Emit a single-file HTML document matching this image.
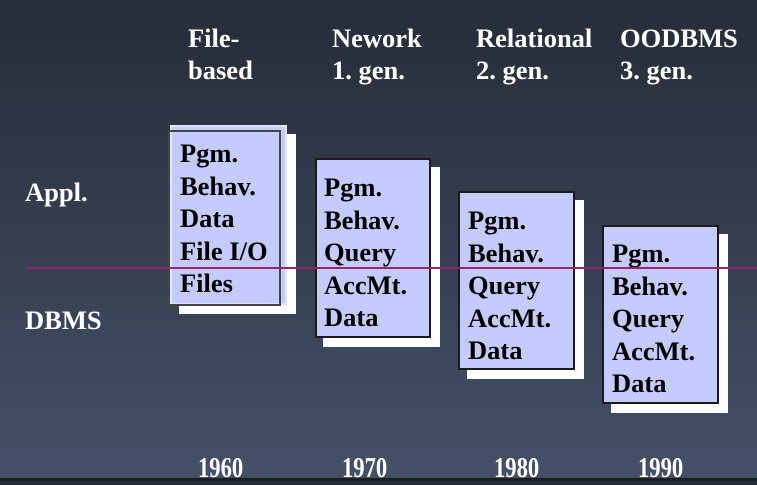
<!DOCTYPE html>
<html><head><style>
body{margin:0;width:757px;height:481px;overflow:hidden;background:linear-gradient(#262c38,#435067 470px);position:relative;font-family:"Liberation Serif",serif;font-weight:bold;}
.t{position:absolute;color:#fff;font-size:26.5px;line-height:32px;white-space:nowrap}
.sh{position:absolute;background:#fff}
.bx{position:absolute;background:#c4cbff;border:2px solid #1a1a1a;box-sizing:border-box}
.bt{position:absolute;color:#000;font-size:26.5px;line-height:32.5px;white-space:nowrap}
.y{position:absolute;color:#fff;font-size:29px;top:452px;transform:scaleX(0.78);transform-origin:left}
</style></head><body>
<div class="t" style="left:188px;top:22px">File-<br>based</div>
<div class="t" style="left:332px;top:22px">Nework<br>1. gen.</div>
<div class="t" style="left:476px;top:22px">Relational<br>2. gen.</div>
<div class="t" style="left:620px;top:22px">OODBMS<br>3. gen.</div>
<div class="t" style="left:25px;top:176px">Appl.</div>
<div class="t" style="left:25px;top:304px">DBMS</div>

<div class="sh" style="left:179px;top:134px;width:117px;height:180px"></div>
<div class="bx" style="left:170px;top:125px;width:117px;height:180px;border-color:#e0e4ff"></div>
<div class="bx" style="left:168px;top:130px;width:113px;height:176px;background:transparent;border-color:#444"></div>
<div class="bt" style="left:180px;top:137px">Pgm.<br>Behav.<br>Data<br>File I/O<br>Files</div>

<div class="sh" style="left:323px;top:167px;width:117px;height:180px"></div>
<div class="bx" style="left:315px;top:158px;width:116px;height:180px"></div>
<div class="bt" style="left:324px;top:171px">Pgm.<br>Behav.<br>Query<br>AccMt.<br>Data</div>

<div class="sh" style="left:467px;top:200px;width:117px;height:179px"></div>
<div class="bx" style="left:458px;top:191px;width:117px;height:179px"></div>
<div class="bt" style="left:468px;top:204px">Pgm.<br>Behav.<br>Query<br>AccMt.<br>Data</div>

<div class="sh" style="left:611px;top:234px;width:117px;height:179px"></div>
<div class="bx" style="left:602px;top:225px;width:117px;height:179px"></div>
<div class="bt" style="left:612px;top:237px">Pgm.<br>Behav.<br>Query<br>AccMt.<br>Data</div>

<div style="position:absolute;left:25px;top:267px;width:732px;height:2px;background:#a0206a"></div>

<div class="y" style="left:198px">1960</div>
<div class="y" style="left:342px">1970</div>
<div class="y" style="left:494px">1980</div>
<div class="y" style="left:638px">1990</div>
<div style="position:absolute;left:0;top:478px;width:757px;height:3px;background:#1e1e1e"></div>
</body></html>
